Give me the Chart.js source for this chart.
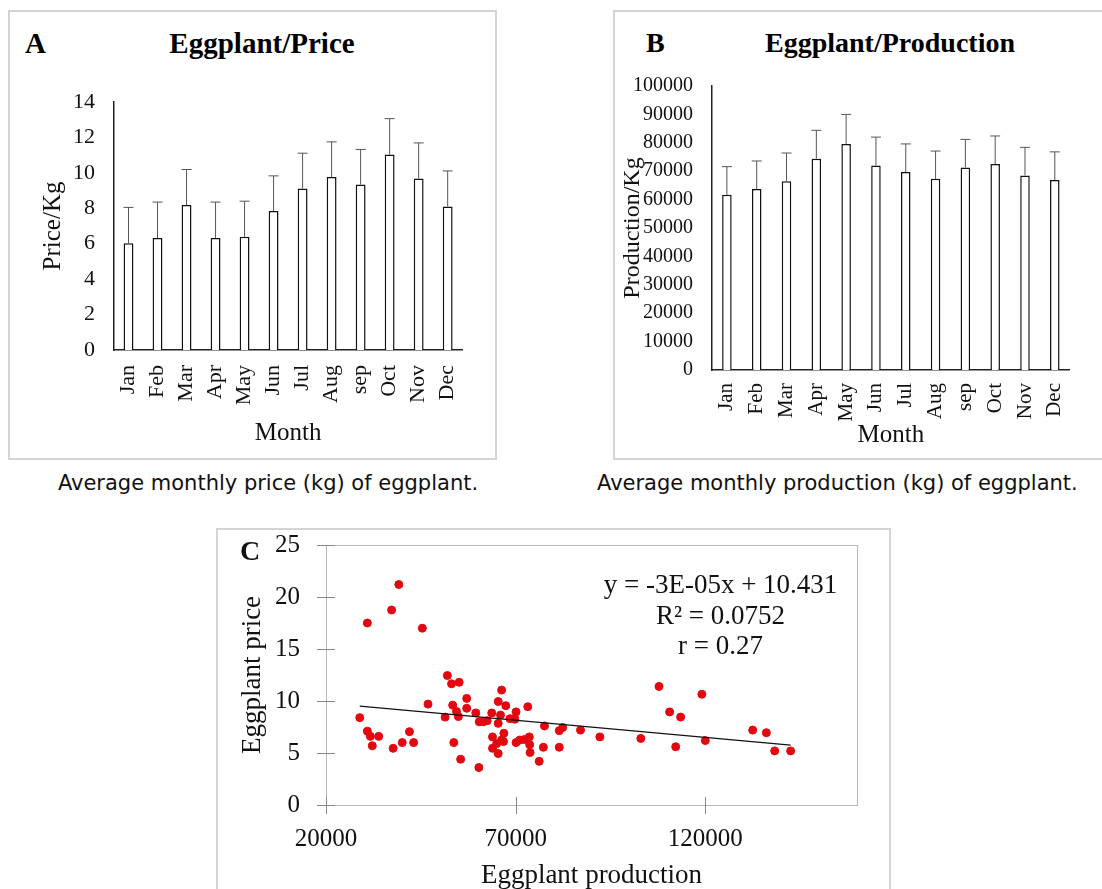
<!DOCTYPE html>
<html>
<head>
<meta charset="utf-8">
<script src="https://cdn.jsdelivr.net/npm/chart.js@4/dist/chart.umd.min.js"></script>
<style>
  body { margin: 0; background: #fff; width: 1102px; height: 889px; overflow: hidden; position: relative; }
  .frame { position: absolute; border: 2px solid #d4d4d4; box-sizing: border-box; }
  canvas { position: absolute; }
  .lbl { position: absolute; font-family: 'Liberation Serif', serif; font-weight: bold; color: #000; white-space: nowrap; line-height: 1; }
  .cap { position: absolute; font-family: 'DejaVu Sans', Verdana, sans-serif; font-size: 21px; color: #111; white-space: nowrap; line-height: 1; }
</style>
</head>
<body>

<div class="frame" style="left:8px; top:10px; width:489px; height:450px;"></div>
<div class="frame" style="left:613px; top:10px; width:500px; height:450px;"></div>
<div class="frame" style="left:216px; top:528px; width:675px; height:380px;"></div>

<div class="lbl" style="left:25px; top:29px; font-size:29px;">A</div>
<div class="lbl" style="left:262px; top:29px; font-size:29px; transform:translateX(-50%);">Eggplant/Price</div>
<div class="lbl" style="left:646px; top:29px; font-size:28px;">B</div>
<div class="lbl" style="left:890px; top:29px; font-size:28px; transform:translateX(-50%);">Eggplant/Production</div>

<div class="cap" style="left:268px; top:473px; transform:translateX(-50%);">Average monthly price (kg) of eggplant.</div>
<div class="cap" style="left:597px; top:473px;">Average monthly production (kg) of eggplant.</div>

<canvas id="chartPrice" width="480" height="395" style="left:10px; top:60px;"></canvas>
<canvas id="chartProd" width="480" height="403" style="left:614px; top:55px;"></canvas>
<canvas id="chartScatter" width="670" height="359" style="left:218px; top:530px;"></canvas>

<script>
// Meses
var months = ['Jan', 'Feb', 'Mar', 'Apr', 'May', 'Jun', 'Jul', 'Aug', 'sep', 'Oct', 'Nov', 'Dec'];

// A - preço médio mensal e desvio
var priceMean = [6.02, 6.32, 8.18, 6.32, 6.39, 7.84, 9.12, 9.76, 9.34, 11.03, 9.68, 8.10];
var priceErr = [2.03, 2.03, 2.01, 2.03, 2.01, 1.99, 1.99, 1.99, 1.98, 2.03, 2.01, 2.01];

// B - produção média mensal e desvio
var prodMean = [61700, 63700, 66500, 74400, 79600, 72000, 69700, 67300, 71300, 72500, 68500, 66900];
var prodErr = [9900, 9900, 9900, 10000, 10400, 10000, 9900, 9800, 9900, 9900, 9900, 9900];

// C - produção x preço
var scatterProd = [28900, 30900, 30900, 31700, 32200, 33900, 37300, 37700, 39200, 40100, 42000, 43100, 45400, 46900,
    51400, 52000, 53100, 55100, 53400, 54400, 54900, 57100, 57100, 53700, 55500, 59500, 60300, 60400, 61500, 62500,
    63700, 65400, 66300, 65400, 67400, 66000, 68500, 70100, 69800, 73200, 63900, 66900, 66300, 65000, 63900, 65400,
    70100, 71100, 72300, 73600, 73700, 73800, 76200, 77300, 77600, 81500, 81500, 82400, 87100, 92200, 66800,
    103000, 107800, 110600, 112200, 113500, 119100, 120000, 132500, 136100, 138300, 142500];
var scatterPrice = [8.4, 17.5, 7.1, 6.6, 5.7, 6.6, 18.75, 5.45, 21.2, 6.0, 7.05, 6.0, 17.0, 9.7,
    8.45, 12.45, 11.65, 11.8, 9.6, 9.0, 8.5, 10.25, 9.3, 6.0, 4.4, 8.85, 3.6, 8.0, 8.0, 8.1,
    8.85, 7.85, 11.05, 9.95, 9.55, 8.65, 8.3, 8.95, 8.25, 9.45, 6.55, 6.9, 6.25, 5.9, 5.45, 4.95,
    6.0, 6.25, 6.3, 6.55, 5.8, 5.05, 4.2, 5.55, 7.6, 5.55, 7.15, 7.45, 7.2, 6.55, 6.1,
    6.4, 11.4, 8.95, 5.6, 8.45, 10.65, 6.2, 7.2, 6.95, 5.2, 5.2];
// linha de tendência (extremos)
var trendProd = [28900, 142500];
var trendPrice = [9.5, 5.75];
var scatterXTicks = [20000, 70000, 120000];
var trendText = ['y = -3E-05x + 10.431', 'R\u00b2 = 0.0752', 'r = 0.27'];

Chart.defaults.font.family = "'Liberation Serif', 'Times New Roman', serif";
Chart.defaults.color = '#111';
Chart.defaults.animation = false;

// Plugin para desenhar barras de erro (só a parte de cima)
var errorBarPlugin = {
    id: 'errorBars',
    afterDatasetsDraw: function(chart) {
        var ds = chart.data.datasets[0];
        var meta = chart.getDatasetMeta(0);
        var yScale = chart.scales.y;
        var ctx = chart.ctx;
        ctx.save();
        ctx.strokeStyle = '#555';
        ctx.lineWidth = 1;
        meta.data.forEach(function(bar, i) {
            var yTop = yScale.getPixelForValue(ds.data[i] + ds.errors[i]);
            ctx.beginPath();
            ctx.moveTo(bar.x, bar.y);
            ctx.lineTo(bar.x, yTop);
            ctx.moveTo(bar.x - 5, yTop);
            ctx.lineTo(bar.x + 5, yTop);
            ctx.stroke();
        });
        ctx.restore();
    }
};

function criarGraficoBarras(id, values, errors, opt) {
    var ctx = document.getElementById(id).getContext('2d');
    return new Chart(ctx, {
        type: 'bar',
        data: {
            labels: months,
            datasets: [{
                data: values,
                errors: errors,
                backgroundColor: '#fff',
                borderColor: '#111',
                borderWidth: 1.5,
                barPercentage: opt.barPct,
                categoryPercentage: 1
            }]
        },
        options: {
            responsive: false,
            layout: { padding: opt.padding },
            plugins: { legend: { display: false }, tooltip: { enabled: false } },
            scales: {
                x: {
                    grid: { display: false, drawTicks: false },
                    border: { display: true, color: '#222', width: 1.5 },
                    ticks: { autoSkip: false, minRotation: 90, maxRotation: 90, padding: opt.xPad, font: { size: opt.xFont } },
                    title: { display: true, text: 'Month', font: { size: 25, lineHeight: 1.2 }, padding: { top: 0, bottom: opt.xTitlePad } },
                    afterFit: function(scale) { scale.height = opt.xHeight; }
                },
                y: {
                    min: 0,
                    max: opt.max,
                    grid: { display: false, drawTicks: false },
                    border: { display: true, color: '#222', width: 1.5 },
                    ticks: { stepSize: opt.step, padding: opt.yPad, font: { size: opt.yFont }, callback: function(v) { return String(v); } },
                    title: { display: true, text: opt.yTitle, font: { size: opt.yTitleFont, lineHeight: 1.2 }, padding: { top: opt.yTitlePad, bottom: 0 } },
                    afterFit: function(scale) { scale.width = opt.yWidth; }
                }
            }
        },
        plugins: [errorBarPlugin]
    });
}

criarGraficoBarras('chartPrice', priceMean, priceErr, {
    barPct: 0.34, padding: { top: 42, right: 22, left: 0, bottom: 0 },
    xPad: 15, xFont: 22, xTitlePad: 7, xHeight: 105,
    max: 14, step: 2, yPad: 19, yFont: 22, yTitle: 'Price/Kg', yTitleFont: 25, yTitlePad: 28, yWidth: 104
});

criarGraficoBarras('chartProd', prodMean, prodErr, {
    barPct: 0.32, padding: { top: 29, right: 24, left: 0, bottom: 0 },
    xPad: 13, xFont: 21, xTitlePad: 8, xHeight: 88,
    max: 100000, step: 10000, yPad: 19, yFont: 20, yTitle: 'Production/Kg', yTitleFont: 24, yTitlePad: 4, yWidth: 98
});

// Plugin: moldura da área do gráfico, marcas cruzando o eixo, texto da regressão e letra C
var scatterDecor = {
    id: 'scatterDecor',
    beforeDatasetsDraw: function(chart) {
        var a = chart.chartArea;
        var ctx = chart.ctx;
        ctx.save();
        ctx.strokeStyle = '#b8b8b8';
        ctx.lineWidth = 1;
        ctx.strokeRect(a.left + 0.5, a.top + 0.5, a.right - a.left, a.bottom - a.top);
        ctx.strokeStyle = '#888';
        var xs = chart.scales.x, ys = chart.scales.y;
        ctx.beginPath();
        xs.ticks.forEach(function(t) {
            var px = Math.round(xs.getPixelForValue(t.value)) + 0.5;
            ctx.moveTo(px, a.bottom - 8);
            ctx.lineTo(px, a.bottom + 9);
        });
        ys.ticks.forEach(function(t) {
            var py = Math.round(ys.getPixelForValue(t.value)) + 0.5;
            ctx.moveTo(a.left - 9, py);
            ctx.lineTo(a.left + 9, py);
        });
        ctx.stroke();
        ctx.restore();
    },
    afterDraw: function(chart) {
        var a = chart.chartArea;
        var ctx = chart.ctx;
        ctx.save();
        ctx.fillStyle = '#111';
        ctx.textAlign = 'center';
        ctx.textBaseline = 'middle';
        ctx.font = "27px 'Liberation Serif'";
        var cx = a.left + (a.right - a.left) * 0.743;
        trendText.forEach(function(t, i) {
            ctx.fillText(t, cx, a.top + 41 + i * 30.5);
        });
        ctx.font = "bold 28px 'Liberation Serif'";
        ctx.fillText('C', 32, 23);
        ctx.restore();
    }
};

var pontos = scatterProd.map(function(x, i) { return { x: x, y: scatterPrice[i] }; });
var tendencia = trendProd.map(function(x, i) { return { x: x, y: trendPrice[i] }; });

new Chart(document.getElementById('chartScatter').getContext('2d'), {
    type: 'scatter',
    data: {
        datasets: [{
            type: 'line',
            data: tendencia,
            borderColor: '#111',
            borderWidth: 1.3,
            pointRadius: 0,
            fill: false,
            order: 0
        }, {
            data: pontos,
            backgroundColor: '#e3080f',
            borderColor: '#e3080f',
            pointRadius: 4,
            order: 1
        }]
    },
    options: {
        responsive: false,
        layout: { padding: { top: 15, right: 31, left: 0, bottom: 0 }, autoPadding: false },
        plugins: { legend: { display: false }, tooltip: { enabled: false } },
        scales: {
            x: {
                type: 'linear',
                min: 20000,
                max: 160000,
                grid: { display: false, drawTicks: false },
                border: { display: true, color: '#888', width: 1 },
                afterBuildTicks: function(scale) {
                    scale.ticks = scatterXTicks.map(function(v) { return { value: v }; });
                },
                ticks: { padding: 19, font: { size: 25 }, callback: function(v) { return String(v); } },
                title: { display: true, text: 'Eggplant production', font: { size: 27, lineHeight: 1 }, padding: { top: 0, bottom: 0 } },
                afterFit: function(scale) {
                    scale.height = 84;
                    scale.paddingLeft = 0;
                    scale.paddingRight = 0;
                }
            },
            y: {
                min: 0,
                max: 25,
                grid: { display: false, drawTicks: false },
                border: { display: true, color: '#888', width: 1 },
                ticks: { stepSize: 5, padding: 26, font: { size: 25 } },
                title: { display: true, text: 'Eggplant price', font: { size: 27, lineHeight: 1.2 }, padding: { top: 19, bottom: 0 } },
                afterFit: function(scale) {
                    scale.width = 108;
                    scale.paddingTop = 0;
                    scale.paddingBottom = 0;
                }
            }
        }
    },
    plugins: [scatterDecor]
});
</script>
</body>
</html>
